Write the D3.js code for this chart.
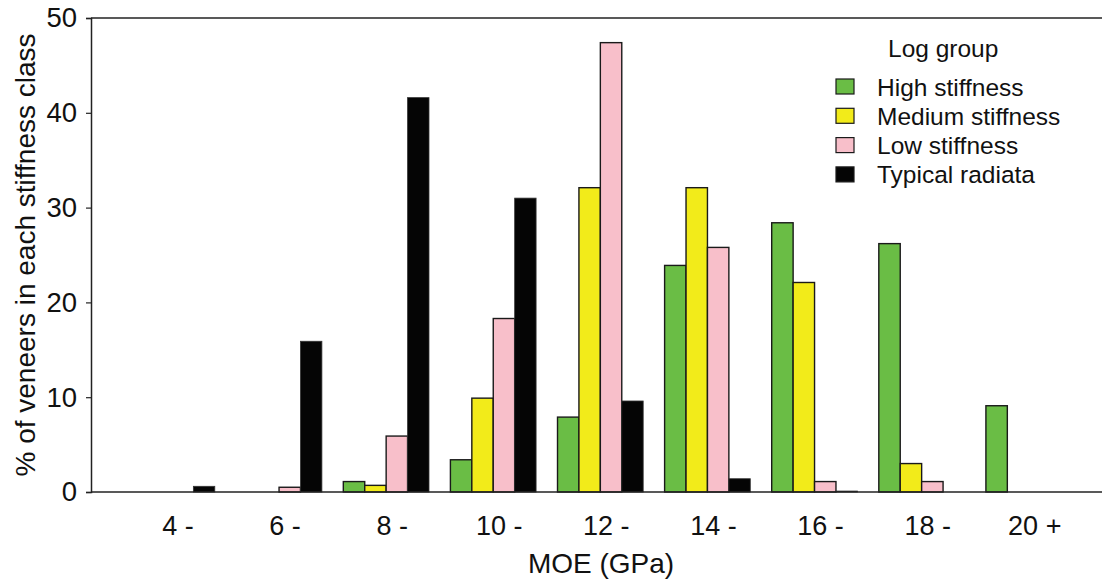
<!DOCTYPE html>
<html>
<head>
<meta charset="utf-8">
<script src="https://cdn.jsdelivr.net/npm/d3@7"></script>
<style>
  body { margin: 0; background: #fff; }
  svg { font-family: "Liberation Sans", Arial, sans-serif; }
</style>
</head>
<body>
<svg width="1102" height="579"></svg>
<script>
const classes = ["4 -", "6 -", "8 -", "10 -", "12 -", "14 -", "16 -", "18 -", "20 +"];
const groups = ["High stiffness", "Medium stiffness", "Low stiffness", "Typical radiata"];
const colors = ["#6abd45", "#f2eb1a", "#f8bfca", "#050505"];

const high    = [0,   0,    1.1,  3.4,  7.9,  23.9, 28.4, 26.2, 9.1];
const medium  = [0,   0,    0.7,  9.9,  32.1, 32.1, 22.1, 3.0,  0];
const low     = [0,   0.5,  5.9,  18.3, 47.4, 25.8, 1.1,  1.1,  0];
const typical = [0.6, 15.9, 41.6, 31.0, 9.6,  1.4,  0.1,  0,    0];
const series = [high, medium, low, typical];

const yTicks = [0, 10, 20, 30, 40, 50];

const svg = d3.select("svg");
const plotLeft = 91, plotTop = 18, plotBottom = 492, plotRight = 1102;

const x = d3.scaleBand()
  .domain(classes)
  .range([118.4, 1082.3])
  .paddingInner(0.2)
  .paddingOuter(0.1);

const xs = d3.scaleBand()
  .domain(groups)
  .range([0, x.bandwidth()]);

const y = d3.scaleLinear()
  .domain([0, 50])
  .range([plotBottom, plotTop]);

// BARS
const cells = [];
classes.forEach((c, i) => {
  groups.forEach((g, j) => {
    if (series[j][i] > 0) cells.push({ c, g, j, v: series[j][i] });
  });
});

svg.append("g")
  .selectAll("rect")
  .data(cells)
  .enter()
  .append("rect")
  .attr("x", d => x(d.c) + xs(d.g))
  .attr("y", d => y(d.v))
  .attr("width", xs.bandwidth())
  .attr("height", d => plotBottom - y(d.v))
  .attr("fill", d => colors[d.j])
  .attr("stroke", d => d.j === 3 ? "#333" : "#1a1a1a")
  .attr("stroke-width", d => d.j === 3 ? 0.8 : 1.4);

// FRAME
svg.append("line")
  .attr("x1", plotLeft).attr("x2", plotRight)
  .attr("y1", plotTop).attr("y2", plotTop)
  .attr("stroke", "#222").attr("stroke-width", 1.5);

const yAxis = svg.append("g")
  .attr("transform", `translate(${plotLeft},0)`)
  .call(d3.axisLeft(y).tickValues(yTicks).tickSize(5).tickPadding(9).tickFormat(d3.format("d")));
yAxis.select(".domain").attr("stroke", "#222").attr("stroke-width", 1.5);
yAxis.selectAll(".tick line").attr("stroke", "#222").attr("stroke-width", 1.2);
yAxis.selectAll("text")
  .attr("font-size", 27.5)
  .attr("font-family", "Liberation Sans, Arial, sans-serif")
  .attr("fill", "#111");

svg.append("line")
  .attr("x1", plotLeft).attr("x2", plotRight)
  .attr("y1", plotBottom).attr("y2", plotBottom)
  .attr("stroke", "#222").attr("stroke-width", 1.5);

// X LABELS
svg.append("g")
  .selectAll("text")
  .data(classes)
  .enter()
  .append("text")
  .attr("x", d => x(d) + x.bandwidth() / 2 + 6)
  .attr("y", 535)
  .attr("text-anchor", "middle")
  .attr("font-size", 27)
  .attr("fill", "#111")
  .text(d => d);

svg.append("text")
  .attr("x", 601)
  .attr("y", 573)
  .attr("text-anchor", "middle")
  .attr("font-size", 28)
  .attr("fill", "#111")
  .text("MOE (GPa)");

svg.append("text")
  .attr("transform", `translate(35,255) rotate(-90)`)
  .attr("text-anchor", "middle")
  .attr("font-size", 28)
  .attr("fill", "#111")
  .text("% of veneers in each stiffness class");

// LEGEND
const legend = svg.append("g");
legend.append("text")
  .attr("x", 888)
  .attr("y", 57)
  .attr("font-size", 24.5)
  .attr("fill", "#111")
  .text("Log group");

const item = legend.selectAll("g.item")
  .data(groups)
  .enter()
  .append("g")
  .attr("class", "item")
  .attr("transform", (d, i) => `translate(0, ${i * 29.3})`);

item.append("rect")
  .attr("x", 836)
  .attr("y", 79)
  .attr("width", 18)
  .attr("height", 15)
  .attr("fill", (d, i) => colors[i])
  .attr("stroke", "#1a1a1a")
  .attr("stroke-width", 1.2);

item.append("text")
  .attr("x", 877)
  .attr("y", 95.5)
  .attr("font-size", 24.5)
  .attr("fill", "#111")
  .text(d => d);
</script>
</body>
</html>
